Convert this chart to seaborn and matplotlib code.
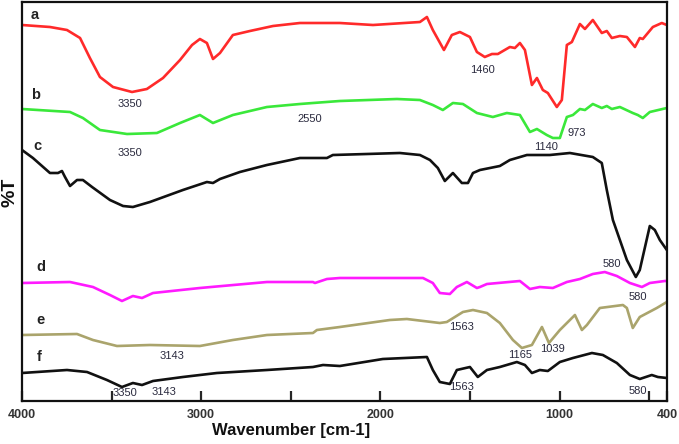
import pandas as pd
import numpy as np
import matplotlib
matplotlib.use('Agg')
import matplotlib.pyplot as plt
import seaborn as sns

sns.set_style('white')
plt.rcParams['font.family'] = ['Liberation Sans', 'DejaVu Sans']

# spectra (wavenumber, %T in arbitrary offset units)
wn_a = [4000, 3844, 3749, 3676, 3621, 3565, 3492, 3386, 3303, 3213, 3118, 3051, 3007, 2968, 2934, 2895,
        2823, 2728, 2599, 2449, 2226, 2041, 1779, 1740, 1707, 1645, 1601, 1556, 1500, 1461, 1417, 1377,
        1344, 1277, 1249, 1221, 1193, 1154, 1126, 1093, 1065, 1015, 987, 959, 931, 886, 858, 814,
        764, 736, 708, 663, 624, 579, 552, 535, 479, 429, 401]
t_a = [376, 374, 371, 363, 343, 324, 314, 309, 312, 323, 341, 356, 362, 358, 342, 348,
       366, 370, 375, 378, 378, 376, 379, 384, 371, 351, 366, 369, 364, 349, 344, 347,
       347, 354, 353, 358, 351, 316, 323, 311, 308, 294, 301, 356, 359, 377, 372, 381,
       368, 370, 363, 365, 364, 354, 363, 362, 374, 378, 376]

wn_b = [4000, 3732, 3660, 3565, 3414, 3247, 3118, 3007, 2934, 2823, 2633, 2449, 2376, 2226, 1907, 1779,
        1707, 1651, 1595, 1539, 1461, 1372, 1294, 1221, 1165, 1126, 1071, 1037, 998, 959, 925, 886,
        858, 814, 764, 736, 708, 663, 591, 563, 535, 496, 401]
t_b = [292, 289, 283, 271, 267, 268, 278, 286, 278, 286, 294, 297, 298, 300, 302, 301,
       296, 291, 298, 297, 288, 284, 288, 286, 269, 272, 266, 263, 263, 284, 286, 292,
       291, 297, 293, 295, 292, 294, 288, 286, 283, 289, 293]

wn_c = [4000, 3939, 3844, 3799, 3777, 3760, 3732, 3693, 3660, 3609, 3509, 3436, 3381, 3286, 3102, 2968,
        2934, 2895, 2784, 2633, 2449, 2298, 2265, 2075, 1891, 1779, 1723, 1679, 1640, 1595, 1545, 1511,
        1483, 1444, 1333, 1277, 1182, 1054, 942, 814, 764, 736, 702, 624, 574, 552, 496, 468, 440, 401]
t_c = [251, 243, 228, 228, 230, 224, 215, 221, 221, 214, 201, 195, 194, 199, 211, 219,
       218, 222, 229, 236, 243, 243, 246, 247, 248, 246, 241, 233, 220, 228, 218, 218,
       228, 231, 235, 241, 246, 246, 248, 244, 238, 211, 181, 141, 124, 131, 175, 171, 161, 151]

wn_d = [4000, 3732, 3604, 3509, 3442, 3381, 3330, 3269, 3007, 2633, 2376, 2365, 2298, 2226, 1762, 1707,
        1668, 1612, 1573, 1517, 1461, 1444, 1405, 1221, 1165, 1110, 1037, 959, 886, 814, 747, 680,
        607, 540, 496, 412, 401]
t_d = [118, 119, 114, 106, 100, 105, 103, 108, 113, 119, 119, 118, 122, 123, 123, 118,
       108, 107, 114, 119, 113, 114, 117, 120, 112, 114, 113, 119, 122, 127, 129, 125,
       118, 114, 118, 120, 120]

wn_e = [4000, 3693, 3604, 3470, 3286, 3007, 2823, 2633, 2376, 2354, 2226, 1947, 1852, 1668, 1629, 1539,
        1483, 1405, 1333, 1260, 1210, 1154, 1098, 1059, 998, 914, 875, 847, 775, 646, 624, 591,
        552, 457, 401]
t_e = [66, 67, 61, 55, 56, 55, 61, 66, 68, 71, 74, 81, 82, 78, 79, 89,
       91, 88, 78, 61, 53, 56, 74, 58, 71, 86, 71, 76, 93, 96, 93, 73,
       84, 93, 99]

wn_f = [4000, 3749, 3637, 3526, 3442, 3381, 3330, 3269, 3102, 2912, 2633, 2376, 2320, 2226, 1986, 1740,
        1707, 1668, 1612, 1573, 1500, 1456, 1405, 1333, 1238, 1193, 1154, 1110, 1065, 998, 925, 819,
        758, 680, 607, 552, 485, 451, 401]
t_f = [28, 31, 29, 21, 14, 18, 16, 20, 24, 28, 31, 34, 36, 35, 42, 44,
       31, 19, 17, 31, 34, 24, 31, 34, 39, 36, 28, 31, 30, 39, 43, 48,
       46, 38, 26, 22, 26, 24, 23]

samples = ['a', 'b', 'c', 'd', 'e', 'f']
colors = ['#ff2a2a', '#3ae83a', '#111111', '#ff1aff', '#aaa46c', '#111111']

# letter tags and peak labels (wavenumber, y, text)
tags = [(3927, 386, 'a'), (3922, 306, 'b'), (3916, 255, 'c'),
        (3894, 134, 'd'), (3894, 81, 'e'), (3905, 44, 'f')]
peaks = [(3397, 297, '3350'), (3397, 248, '3350'), (2393, 282, '2550'),
         (1428, 331, '1460'), (903, 268, '973'), (1076, 254, '1140'),
         (708, 137, '580'), (563, 104, '580'), (1545, 74, '1563'),
         (1221, 46, '1165'), (1037, 52, '1039'), (1545, 14, '1563'),
         (563, 10, '580'), (3163, 45, '3143'), (3425, 8, '3350'),
         (3208, 9, '3143')]

frames = []
for s, w, t in zip(samples, [wn_a, wn_b, wn_c, wn_d, wn_e, wn_f],
                   [t_a, t_b, t_c, t_d, t_e, t_f]):
    frames.append(pd.DataFrame({'wn': w, 'T': t, 'sample': s}))
df = pd.concat(frames, ignore_index=True)

fig = plt.figure(figsize=(6.79, 4.44), dpi=100)
ax = fig.add_axes([22/679, 43/444, 645/679, 399/444])

sns.lineplot(data=df, x='wn', y='T', hue='sample', palette=dict(zip(samples, colors)),
             estimator=None, sort=False, legend=False, linewidth=1.9, ax=ax)
for line in ax.get_lines():
    line.set_solid_joinstyle('round')

ax.set_xlim(4000, 400)
ax.set_ylim(0, 399)

for x, y, s in tags:
    ax.text(x, y, s, fontsize=10.5, fontweight='bold', color='#222222', ha='center', va='center')
for x, y, s in peaks:
    ax.text(x, y, s, fontsize=8, color='#2a2a3e', ha='center', va='center')

ax.set_xticks([4000, 3000, 2000, 1000, 400])
ax.set_xticklabels(['4000', '3000', '2000', '1000', '400'], fontsize=9, fontweight='bold', color='#333333')
ax.set_xticks([3500, 2500, 1500, 500], minor=True)
ax.tick_params(axis='x', which='both', direction='in', length=7, width=1.6, bottom=True, pad=6)
ax.set_yticks([])

for sp in ax.spines.values():
    sp.set_color('#111111')
    sp.set_linewidth(1.6)

ax.set_xlabel('Wavenumber [cm-1]', fontsize=12, fontweight='bold', color='#111111')
ax.xaxis.set_label_coords((291 - 22) / 645, -0.056)
ax.set_ylabel('%T', fontsize=14, fontweight='bold', color='#111111')
ax.yaxis.set_label_coords(-0.006, 0.524)

fig.savefig('out.png', dpi=100)
